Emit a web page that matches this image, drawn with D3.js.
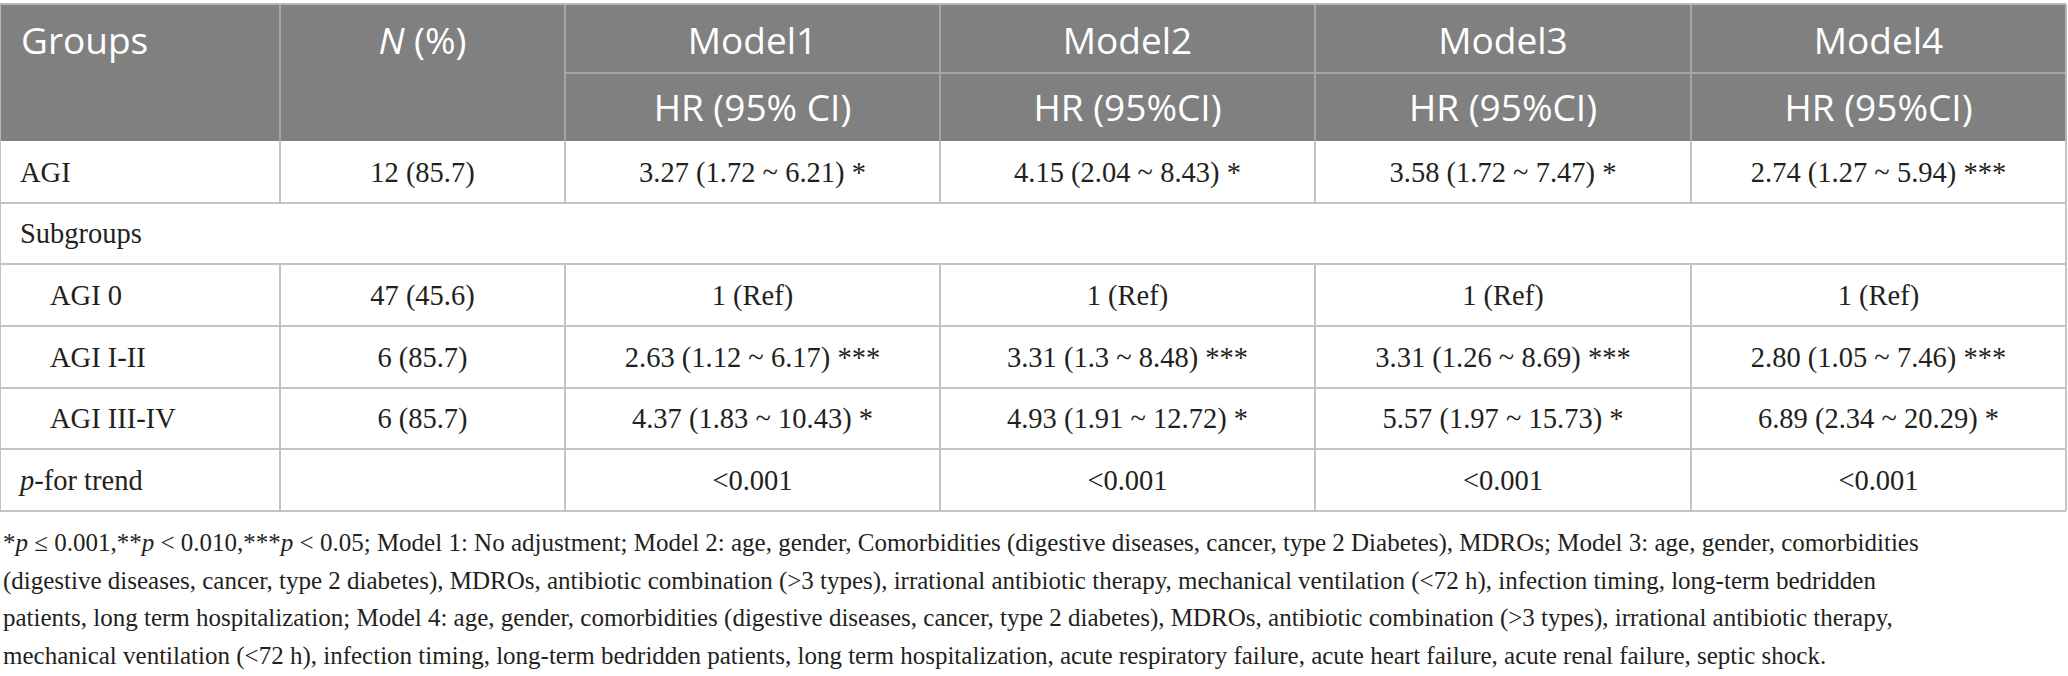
<!DOCTYPE html>
<html>
<head>
<meta charset="utf-8">
<script src="https://cdn.jsdelivr.net/npm/d3@7"></script>
<style>
  body { margin: 0; background: #fff; }
</style>
</head>
<body>
<div id="chart"></div>
<script>
// table content
const groups = ['AGI', 'Subgroups', 'AGI 0', 'AGI I-II', 'AGI III-IV', 'p-for trend'];
const indented = ['AGI 0', 'AGI I-II', 'AGI III-IV'];
const nPercent = ['12 (85.7)', '', '47 (45.6)', '6 (85.7)', '6 (85.7)', ''];
const models = ['Model1', 'Model2', 'Model3', 'Model4'];
const ciHeaders = ['HR (95% CI)', 'HR (95%CI)', 'HR (95%CI)', 'HR (95%CI)'];
const model1 = ['3.27 (1.72 ~ 6.21) *', '', '1 (Ref)', '2.63 (1.12 ~ 6.17) ***', '4.37 (1.83 ~ 10.43) *', '<0.001'];
const model2 = ['4.15 (2.04 ~ 8.43) *', '', '1 (Ref)', '3.31 (1.3 ~ 8.48) ***', '4.93 (1.91 ~ 12.72) *', '<0.001'];
const model3 = ['3.58 (1.72 ~ 7.47) *', '', '1 (Ref)', '3.31 (1.26 ~ 8.69) ***', '5.57 (1.97 ~ 15.73) *', '<0.001'];
const model4 = ['2.74 (1.27 ~ 5.94) ***', '', '1 (Ref)', '2.80 (1.05 ~ 7.46) ***', '6.89 (2.34 ~ 20.29) *', '<0.001'];
const modelValues = [model1, model2, model3, model4];

// footnote, one entry per printed line; [text, italic]
const footnoteLines = [
  [['*', false], ['p', true], [' ≤ 0.001,**', false], ['p', true], [' < 0.010,***', false], ['p', true],
   [' < 0.05; Model 1: No adjustment; Model 2: age, gender, Comorbidities (digestive diseases, cancer, type 2 Diabetes), MDROs; Model 3: age, gender, comorbidities', false]],
  [['(digestive diseases, cancer, type 2 diabetes), MDROs, antibiotic combination (>3 types), irrational antibiotic therapy, mechanical ventilation (<72 h), infection timing, long-term bedridden', false]],
  [['patients, long term hospitalization; Model 4: age, gender, comorbidities (digestive diseases, cancer, type 2 diabetes), MDROs, antibiotic combination (>3 types), irrational antibiotic therapy,', false]],
  [['mechanical ventilation (<72 h), infection timing, long-term bedridden patients, long term hospitalization, acute respiratory failure, acute heart failure, acute renal failure, septic shock.', false]]
];

const width = 2068;
const height = 676;
const headFont = '"Open Sans", "Noto Sans", sans-serif';
const bodyFont = '"Liberation Serif", "DejaVu Serif", serif';
const headFill = '#808080';
const lineColor = '#c4c4c4';

const colKeys = ['group', 'n', ...models];
const colWidths = [280, 285, 375, 375, 376, 375];
const colEdges = [0, ...d3.cumsum(colWidths)];
const colLeft = d3.scaleOrdinal().domain(colKeys).range(colEdges.slice(0, -1));
const colRight = d3.scaleOrdinal().domain(colKeys).range(colEdges.slice(1));
const colMid = k => (colLeft(k) + colRight(k)) / 2;
const tableRight = colEdges[colEdges.length - 1];

const headY = d3.scaleBand().domain(['model', 'ci']).range([4, 141]);
const rowY = d3.scaleBand().domain(groups).range([141, 511]);

const svg = d3.select('#chart')
  .append('svg')
  .attr('width', width)
  .attr('height', height)
  .attr('viewBox', `0 0 ${width} ${height}`);

// header background
svg.append('rect')
  .attr('x', 0)
  .attr('y', headY.range()[0])
  .attr('width', tableRight)
  .attr('height', headY.range()[1] - headY.range()[0])
  .attr('fill', headFill);

const lines = svg.append('g').attr('shape-rendering', 'crispEdges');

// header grid
lines.selectAll('line.hv')
  .data(colEdges.slice(1, -1))
  .join('line')
  .attr('class', 'hv')
  .attr('x1', d => d).attr('x2', d => d)
  .attr('y1', headY.range()[0]).attr('y2', headY.range()[1])
  .attr('stroke', '#a6a6a6')
  .attr('stroke-width', 1.5);

lines.append('line')
  .attr('x1', colLeft(models[0])).attr('x2', tableRight)
  .attr('y1', headY('ci')).attr('y2', headY('ci'))
  .attr('stroke', '#a6a6a6')
  .attr('stroke-width', 2);

// top border
lines.append('line')
  .attr('x1', 0).attr('x2', tableRight)
  .attr('y1', 4).attr('y2', 4)
  .attr('stroke', '#b8b8b8')
  .attr('stroke-width', 2);

// body horizontal lines
lines.selectAll('line.bh')
  .data(groups)
  .join('line')
  .attr('class', 'bh')
  .attr('x1', 0).attr('x2', tableRight)
  .attr('y1', d => rowY(d) + rowY.bandwidth())
  .attr('y2', d => rowY(d) + rowY.bandwidth())
  .attr('stroke', lineColor)
  .attr('stroke-width', 2);

// body vertical lines (Subgroups row spans the whole width)
const vSegs = [];
groups.forEach(g => {
  const inner = g === 'Subgroups' ? [] : colEdges.slice(1, -1);
  [0, ...inner, tableRight].forEach(x => vSegs.push({ x, g }));
});
lines.selectAll('line.bv')
  .data(vSegs)
  .join('line')
  .attr('class', 'bv')
  .attr('x1', d => d.x).attr('x2', d => d.x)
  .attr('y1', d => rowY(d.g)).attr('y2', d => rowY(d.g) + rowY.bandwidth())
  .attr('stroke', lineColor)
  .attr('stroke-width', 1.5);

// outer header sides
lines.selectAll('line.hs')
  .data([0, tableRight])
  .join('line')
  .attr('class', 'hs')
  .attr('x1', d => d).attr('x2', d => d)
  .attr('y1', headY.range()[0]).attr('y2', headY.range()[1])
  .attr('stroke', '#b8b8b8')
  .attr('stroke-width', 1.5);

// header text
const head = svg.append('g')
  .attr('font-family', headFont)
  .attr('font-size', 37)
  .attr('font-weight', 400)
  .attr('fill', '#fff');

const hy1 = headY('model') + headY.bandwidth() / 2 + 2;
const hy2 = headY('ci') + headY.bandwidth() / 2 + 1;

head.append('text')
  .attr('x', 21).attr('y', hy1).attr('dy', '0.36em')
  .text('Groups');

const nHead = head.append('text')
  .attr('x', colMid('n')).attr('y', hy1).attr('dy', '0.36em')
  .attr('text-anchor', 'middle');
nHead.append('tspan').attr('font-style', 'italic').text('N');
nHead.append('tspan').text(' (%)');

head.selectAll('text.model')
  .data(models)
  .join('text')
  .attr('class', 'model')
  .attr('x', d => colMid(d)).attr('y', hy1).attr('dy', '0.36em')
  .attr('text-anchor', 'middle')
  .text(d => d);

head.selectAll('text.ci')
  .data(ciHeaders)
  .join('text')
  .attr('class', 'ci')
  .attr('x', (d, i) => colMid(models[i])).attr('y', hy2).attr('dy', '0.36em')
  .attr('text-anchor', 'middle')
  .text(d => d);

// body text
const body = svg.append('g')
  .attr('font-family', bodyFont)
  .attr('font-size', 28.5)
  .attr('fill', '#231f20');

const rowMid = g => rowY(g) + rowY.bandwidth() / 2;

const groupText = body.selectAll('text.group')
  .data(groups)
  .join('text')
  .attr('class', 'group')
  .attr('x', d => indented.includes(d) ? 50 : 20)
  .attr('y', d => rowMid(d)).attr('dy', '0.34em');

groupText.each(function(d) {
  const t = d3.select(this);
  if (d.startsWith('p-')) {
    t.append('tspan').attr('font-style', 'italic').text('p');
    t.append('tspan').text(d.slice(1));
  } else {
    t.text(d);
  }
});

body.selectAll('text.npct')
  .data(nPercent)
  .join('text')
  .attr('class', 'npct')
  .attr('x', colMid('n'))
  .attr('y', (d, i) => rowMid(groups[i])).attr('dy', '0.34em')
  .attr('text-anchor', 'middle')
  .text(d => d);

models.forEach((m, mi) => {
  body.selectAll(`text.v${mi}`)
    .data(modelValues[mi])
    .join('text')
    .attr('class', `v${mi}`)
    .attr('x', colMid(m))
    .attr('y', (d, i) => rowMid(groups[i])).attr('dy', '0.34em')
    .attr('text-anchor', 'middle')
    .text(d => d);
});

// footnote
const foot = svg.append('g')
  .attr('font-family', bodyFont)
  .attr('font-size', 25)
  .attr('fill', '#231f20');

const footY = d3.scalePoint().domain(d3.range(footnoteLines.length)).range([551, 664]);

foot.selectAll('text')
  .data(footnoteLines)
  .join('text')
  .attr('x', 3)
  .attr('y', (d, i) => footY(i))
  .selectAll('tspan')
  .data(d => d)
  .join('tspan')
  .attr('font-style', d => d[1] ? 'italic' : null)
  .text(d => d[0]);
</script>
</body>
</html>
